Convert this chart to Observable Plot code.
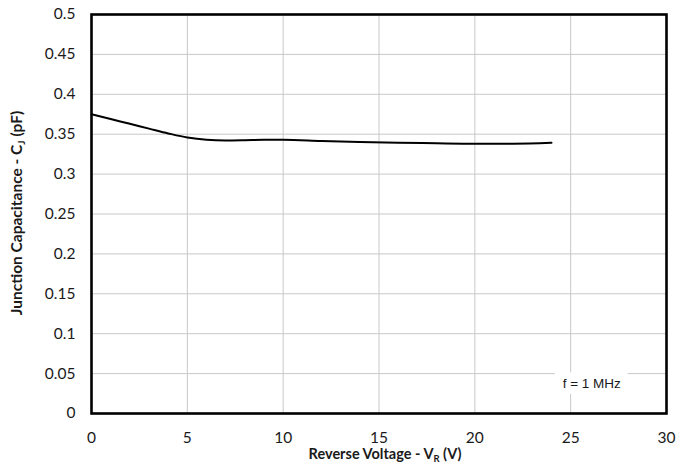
<!DOCTYPE html>
<html>
<head>
<meta charset="utf-8">
<script src="https://cdn.jsdelivr.net/npm/d3@7"></script>
<script src="https://cdn.jsdelivr.net/npm/@observablehq/plot@0.6"></script>
<style>
  html, body { margin: 0; padding: 0; background: #fff; }
  #chart { width: 678px; height: 467px; }
</style>
</head>
<body>
<div id="chart"></div>
<script>
const voltage = [0, 1, 2, 3, 4, 5, 6, 7, 8, 9, 10, 12, 14, 16, 18, 20, 22, 24];
const capacitance = [0.375, 0.369, 0.363, 0.357, 0.351, 0.3458, 0.343, 0.3422, 0.3425, 0.343, 0.343, 0.3415, 0.3402, 0.3393, 0.3386, 0.3381, 0.3381, 0.3392];
const xTicks = [0, 5, 10, 15, 20, 25, 30];
const yTicks = [0, 0.05, 0.1, 0.15, 0.2, 0.25, 0.3, 0.35, 0.4, 0.45, 0.5];
const annotation = [{x: 26.1, y: 0.0375, label: "f = 1 MHz", halfW: 1.9, halfH: 0.0135}];

const data = voltage.map((v, i) => ({v, c: capacitance[i]}));

const tickFont = "Lato, 'Open Sans', sans-serif";

const plot = Plot.plot({
  width: 678,
  height: 467,
  marginLeft: 91,
  marginRight: 12,
  marginTop: 14,
  marginBottom: 54,
  style: {fontFamily: tickFont, fontSize: "15.5px", color: "#1a1a1a", background: "white"},
  x: {domain: [0, 30], ticks: xTicks, tickSize: 0, tickPadding: 18, label: null, tickFormat: d => String(d)},
  y: {domain: [0, 0.5], ticks: yTicks, tickSize: 0, tickPadding: 16, label: null, tickFormat: d => String(+d.toFixed(2))},
  marks: [
    Plot.gridX(xTicks, {stroke: "#c8c8c8", strokeOpacity: 1, strokeWidth: 1}),
    Plot.gridY(yTicks, {stroke: "#c8c8c8", strokeOpacity: 1, strokeWidth: 1}),
    Plot.rect(annotation, {x1: d => d.x - d.halfW, x2: d => d.x + d.halfW, y1: d => d.y - d.halfH, y2: d => d.y + d.halfH, fill: "white"}),
    Plot.text(annotation, {x: "x", y: "y", text: "label", fontFamily: "'Liberation Sans', Arial, sans-serif", fontSize: 13.5, fill: "#1a1a1a"}),
    Plot.line(data, {x: "v", y: "c", curve: "monotone-x", stroke: "black", strokeWidth: 2}),
    Plot.frame({stroke: "black", strokeWidth: 2.6})
  ]
});

document.getElementById("chart").appendChild(plot);

const svg = d3.select(plot);
// X axis title with subscript
const xt = svg.append("text")
  .attr("x", 385).attr("y", 459)
  .attr("text-anchor", "middle")
  .attr("font-family", tickFont)
  .attr("font-weight", "bold")
  .attr("font-size", 14.5)
  .attr("fill", "#1a1a1a");
xt.append("tspan").text("Reverse Voltage - V");
xt.append("tspan").attr("font-size", 9.5).attr("dy", 3).text("R");
xt.append("tspan").attr("dy", -3).text(" (V)");

// Y axis title with subscript
const yt = svg.append("text")
  .attr("transform", "translate(22,213) rotate(-90)")
  .attr("text-anchor", "middle")
  .attr("font-family", tickFont)
  .attr("font-weight", "bold")
  .attr("font-size", 15.5)
  .attr("fill", "#1a1a1a");
yt.append("tspan").text("Junction Capacitance - C");
yt.append("tspan").attr("font-size", 10).attr("dy", 3).text("J");
yt.append("tspan").attr("dy", -3).text(" (pF)");
</script>
</body>
</html>
